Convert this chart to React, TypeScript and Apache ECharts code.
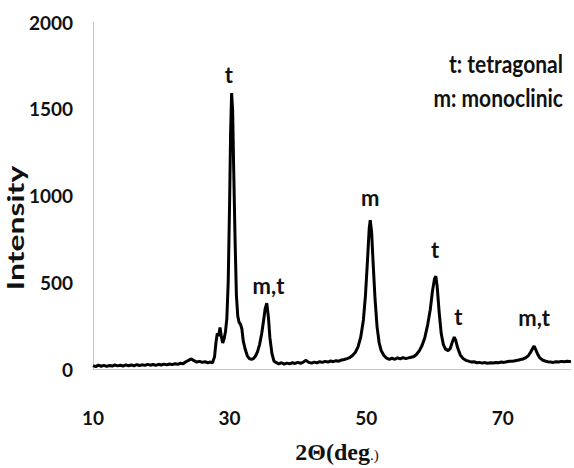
import React, { useEffect, useRef } from "react";
import * as echarts from "echarts";

const twoTheta = [
  10, 10.4, 10.8, 11.2, 11.6, 12, 12.4, 12.8, 13.2, 13.6, 14, 14.4, 14.8, 15.2, 15.6, 16, 16.4, 16.8, 17.2, 17.6,
  18, 18.4, 18.8, 19.2, 19.6, 20, 20.4, 20.8, 21.2, 21.6, 22, 22.4, 22.8, 23.2, 23.6, 24, 24.4, 24.8, 25.2, 25.6,
  26, 26.4, 26.8, 27.2, 27.5, 27.8, 28.0, 28.2, 28.4, 28.6, 28.8, 29.0, 29.2, 29.4, 29.6, 29.8, 30.0, 30.15, 30.3, 30.45,
  30.6, 30.8, 31.0, 31.2, 31.4, 31.6, 31.8, 32.0, 32.3, 32.6, 32.9, 33.2, 33.5, 33.8, 34.1, 34.4, 34.7, 35.0, 35.2, 35.45,
  35.7, 35.9, 36.2, 36.5, 36.8, 37.2, 37.6, 38, 38.4, 38.8, 39.2, 39.6, 40, 40.4, 40.8, 41.2, 41.6, 42, 42.4, 42.8,
  43.2, 43.6, 44, 44.4, 44.8, 45.2, 45.6, 46, 46.4, 46.8, 47.2, 47.6, 48, 48.4, 48.8, 49.2, 49.6, 49.9, 50.2, 50.45,
  50.6, 50.8, 51.0, 51.3, 51.6, 51.9, 52.2, 52.6, 53, 53.4, 53.8, 54.2, 54.6, 55, 55.4, 55.8, 56.2, 56.6, 57, 57.4,
  57.8, 58.2, 58.6, 59, 59.4, 59.7, 60.0, 60.2, 60.4, 60.7, 61.0, 61.3, 61.6, 62.0, 62.3, 62.6, 62.9, 63.1, 63.4, 63.8,
  64.2, 64.6, 65, 65.4, 65.8, 66.2, 66.6, 67, 67.4, 67.8, 68.2, 68.6, 69, 69.4, 69.8, 70.2, 70.6, 71, 71.4, 71.8,
  72.2, 72.6, 73, 73.4, 73.8, 74.1, 74.4, 74.6, 74.8, 75.1, 75.4, 75.8, 76.2, 76.6, 77, 77.4, 77.8, 78.2, 78.6, 79,
  79.4, 79.8, 80,
];

const intensity = [
  20, 14, 22, 16, 21, 15, 20, 17, 23, 18, 22, 17, 24, 19, 23, 18, 25, 20, 24, 21,
  27, 22, 26, 21, 27, 23, 28, 24, 29, 25, 30, 27, 33, 30, 42, 50, 58, 48, 40, 44,
  38, 42, 36, 40, 36, 70, 150, 205, 190, 240, 185, 150, 175, 215, 290, 500, 950, 1360, 1590, 1490,
  1160, 755, 425, 305, 268, 258, 232, 162, 112, 76, 60, 55, 60, 75, 100, 142, 203, 284, 345, 380,
  294, 182, 90, 45, 38, 30, 36, 28, 34, 30, 36, 32, 38, 33, 40, 50, 38, 34, 40, 35,
  42, 38, 44, 40, 46, 42, 48, 45, 52, 55, 60, 66, 78, 95, 126, 182, 283, 425, 628, 810,
  858, 790, 628, 405, 243, 152, 106, 78, 62, 55, 62, 56, 64, 58, 66, 60, 64, 68, 72, 85,
  106, 137, 182, 253, 345, 446, 518, 535, 476, 324, 203, 142, 116, 106, 117, 153, 184, 168, 122, 80,
  60, 50, 45, 40, 42, 36, 38, 34, 37, 33, 36, 35, 38, 36, 40, 38, 42, 45, 44, 48,
  50, 55, 58, 66, 79, 98, 120, 132, 114, 87, 66, 52, 46, 42, 40, 38, 42, 40, 44, 42,
  45, 43, 44,
];

const xTickLabels = ["10", "30", "50", "70"];
const yTickValues = [0, 500, 1000, 1500, 2000];

const peakLabels = ["t", "m,t", "m", "t", "t", "m,t"];
const peakLabelX = [29.9, 35.7, 50.6, 60.1, 63.5, 74.6];
const peakLabelY = [1695, 484, 986, 686, 300, 294];

const legendLines = ["t: tetragonal", "m: monoclinic"];

export default function App() {
  const ref = useRef<HTMLDivElement>(null);
  useEffect(() => {
    if (!ref.current) return;
    document.body.style.margin = "0";
    const chart = echarts.init(ref.current, undefined, { renderer: "svg" });
    const lineData = twoTheta.map((x, i) => [x, intensity[i]]);
    const labelData = peakLabels.map((t, i) => ({ value: [peakLabelX[i], peakLabelY[i]], name: t }));
    chart.setOption({
      animation: false,
      backgroundColor: "#ffffff",
      grid: { left: 93, right: 0, top: 22, bottom: 99, containLabel: false },
      xAxis: {
        type: "value",
        min: 10,
        max: 80,
        interval: 10,
        axisLine: { show: true, lineStyle: { color: "#c8c8c8", width: 1 } },
        axisTick: { show: false },
        splitLine: { show: false },
        axisLabel: {
          margin: 39,
          color: "#111",
          fontFamily: "Lato",
          fontWeight: "bold",
          fontSize: 19,
          formatter: (v: number) => (xTickLabels.includes(String(v)) ? String(v) : ""),
        },
      },
      yAxis: {
        type: "value",
        min: yTickValues[0],
        max: yTickValues[yTickValues.length - 1],
        interval: 500,
        axisLine: { show: true, lineStyle: { color: "#c8c8c8", width: 1 } },
        axisTick: { show: false },
        splitLine: { show: false },
        axisLabel: {
          margin: 20,
          color: "#111",
          fontFamily: "Lato",
          fontWeight: "bold",
          fontSize: 19,
          formatter: (v: number) => String(v),
        },
      },
      series: [
        {
          type: "line",
          data: lineData,
          showSymbol: false,
          symbol: "none",
          lineStyle: { color: "#000", width: 3 },
          z: 3,
        },
        {
          type: "scatter",
          data: labelData,
          symbolSize: 0,
          itemStyle: { opacity: 1 },
          label: {
            show: true,
            position: "inside",
            formatter: (p: any) => p.name,
            color: "#111",
            opacity: 1,
            fontFamily: "Lato",
            fontWeight: "bold",
            fontSize: 22,
          },
          emphasis: { disabled: true },
          z: 4,
        },
      ],
      graphic: [
        {
          type: "text",
          x: 16,
          y: 228,
          rotation: Math.PI / 2,
          scaleX: 1.45,
          style: {
            text: "Intensity",
            fill: "#111",
            font: "bold 22px Lato",
            align: "center",
            verticalAlign: "middle",
          },
        },
        {
          type: "text",
          x: 337,
          y: 452,
          style: {
            text: "{a|2Θ(deg}{b|.)}",
            align: "center",
            verticalAlign: "middle",
            rich: {
              a: { fontFamily: "Liberation Serif", fontSize: 24, fill: "#111", fontWeight: "bold" },
              b: { fontFamily: "Liberation Serif", fontSize: 15, fill: "#111", padding: [6, 0, 0, 0] },
            },
          },
        },
        {
          type: "text",
          x: 563,
          y: 63,
          scaleY: 1.18,
          style: { text: legendLines[0], fill: "#111", font: "bold 21px Lato", align: "right", verticalAlign: "middle" },
        },
        {
          type: "text",
          x: 563,
          y: 97,
          scaleY: 1.18,
          style: { text: legendLines[1], fill: "#111", font: "bold 21px Lato", align: "right", verticalAlign: "middle" },
        },
      ],
    });
    return () => chart.dispose();
  }, []);
  return <div ref={ref} style={{ width: 574, height: 468 }} />;
}
